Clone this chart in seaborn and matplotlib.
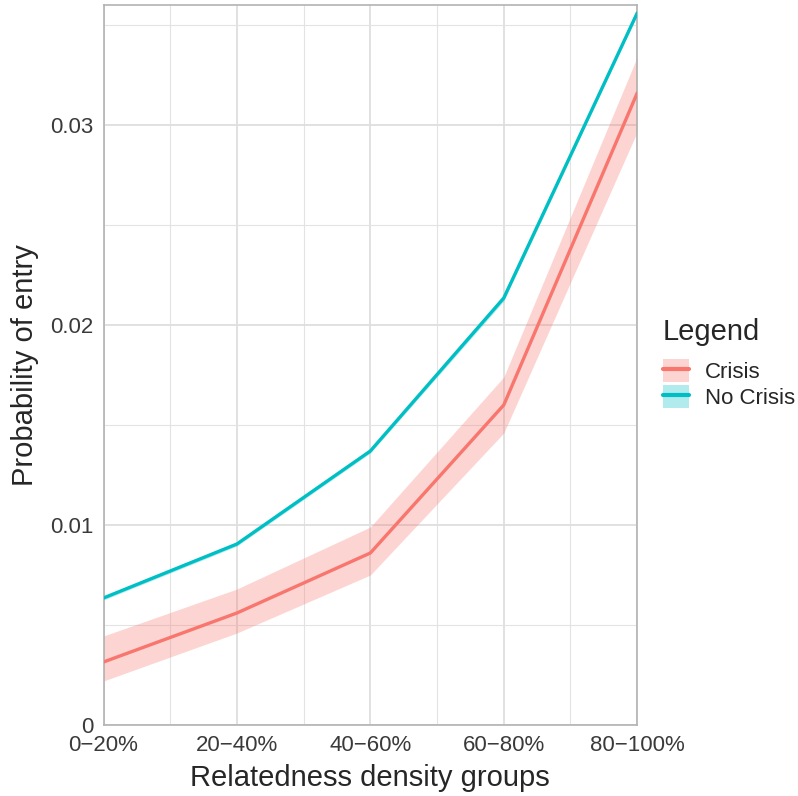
import numpy as np
import pandas as pd
import seaborn as sns
import matplotlib.pyplot as plt
from matplotlib.patches import Patch
from matplotlib.lines import Line2D
from matplotlib.legend_handler import HandlerTuple
from matplotlib.ticker import FixedLocator

sns.set_style("white")
plt.rcParams['font.family'] = ['Liberation Sans', 'DejaVu Sans']

# data
groups = ["0\u221220%", "20\u221240%", "40\u221260%", "60\u221280%", "80\u2212100%"]
crisis = [0.00315, 0.0056, 0.0086, 0.0160, 0.0316]
crisis_lo = [0.0022, 0.0046, 0.0075, 0.0146, 0.02965]
crisis_hi = [0.00445, 0.0068, 0.0099, 0.0174, 0.0334]
no_crisis = [0.00635, 0.00905, 0.0137, 0.02135, 0.0356]
no_crisis_lo = [0.00625, 0.00895, 0.0136, 0.0212, 0.0355]
no_crisis_hi = [0.00645, 0.00915, 0.0138, 0.0215, 0.0357]

colors = {"Crisis": "#F8766D", "No Crisis": "#00BFC4"}

pos = list(range(len(groups)))
df = pd.DataFrame({
    "pos": pos * 2,
    "prob": crisis + no_crisis,
    "lo": crisis_lo + no_crisis_lo,
    "hi": crisis_hi + no_crisis_hi,
    "Legend": ["Crisis"] * len(groups) + ["No Crisis"] * len(groups),
})

fig = plt.figure(figsize=(7.98, 7.96), dpi=100)
ax = fig.add_axes([0.1297, 0.0892, 0.6688, 0.9045])

# grid (theme_light look)
ax.set_axisbelow(True)
ax.xaxis.set_minor_locator(FixedLocator([0.5, 1.5, 2.5, 3.5]))
ax.yaxis.set_minor_locator(FixedLocator([0.005, 0.015, 0.025, 0.035]))
ax.grid(which="major", color="#dedede", linewidth=1.3)
ax.grid(which="minor", color="#e3e3e3", linewidth=0.8)

for name, sub in df.groupby("Legend"):
    ax.fill_between(sub["pos"], sub["lo"], sub["hi"], color=colors[name],
                    alpha=0.3, linewidth=0, zorder=2)

sns.lineplot(data=df, x="pos", y="prob", hue="Legend", palette=colors,
             linewidth=2.4, ax=ax, legend=False, zorder=3)

ax.set_xlim(0, 4)
ax.set_ylim(0, 0.036)
ax.set_xticks(pos)
ax.set_xticklabels(groups)
ax.set_yticks([0, 0.01, 0.02, 0.03])
ax.set_yticklabels(["0", "0.01", "0.02", "0.03"])
ax.tick_params(which="major", length=3.3, width=1, color="#b3b3b3",
               labelsize=16, labelcolor="#3a3a3a", pad=4)
ax.tick_params(which="minor", length=0)
for s in ax.spines.values():
    s.set_color("#b3b3b3")
    s.set_linewidth(1.2)

ax.set_xlabel("Relatedness density groups", fontsize=21, labelpad=6)
ax.set_ylabel("Probability of entry", fontsize=21, labelpad=8)

handles = []
for name in ["Crisis", "No Crisis"]:
    handles.append((Patch(facecolor=colors[name], alpha=0.3, linewidth=0),
                    Line2D([0], [0], color=colors[name], linewidth=3)))
leg = fig.legend(handles, ["Crisis", "No Crisis"], title="Legend",
                 handler_map={tuple: HandlerTuple(ndivide=1, pad=0)},
                 loc="upper left", bbox_to_anchor=(0.817, 0.615),
                 fontsize=16, title_fontsize=21, frameon=False,
                 handlelength=1.18, handleheight=1.2, labelspacing=0.08,
                 handletextpad=0.7, alignment="left", borderpad=0)
leg._legend_box.sep = 10

fig.savefig("out.png", dpi=100)
